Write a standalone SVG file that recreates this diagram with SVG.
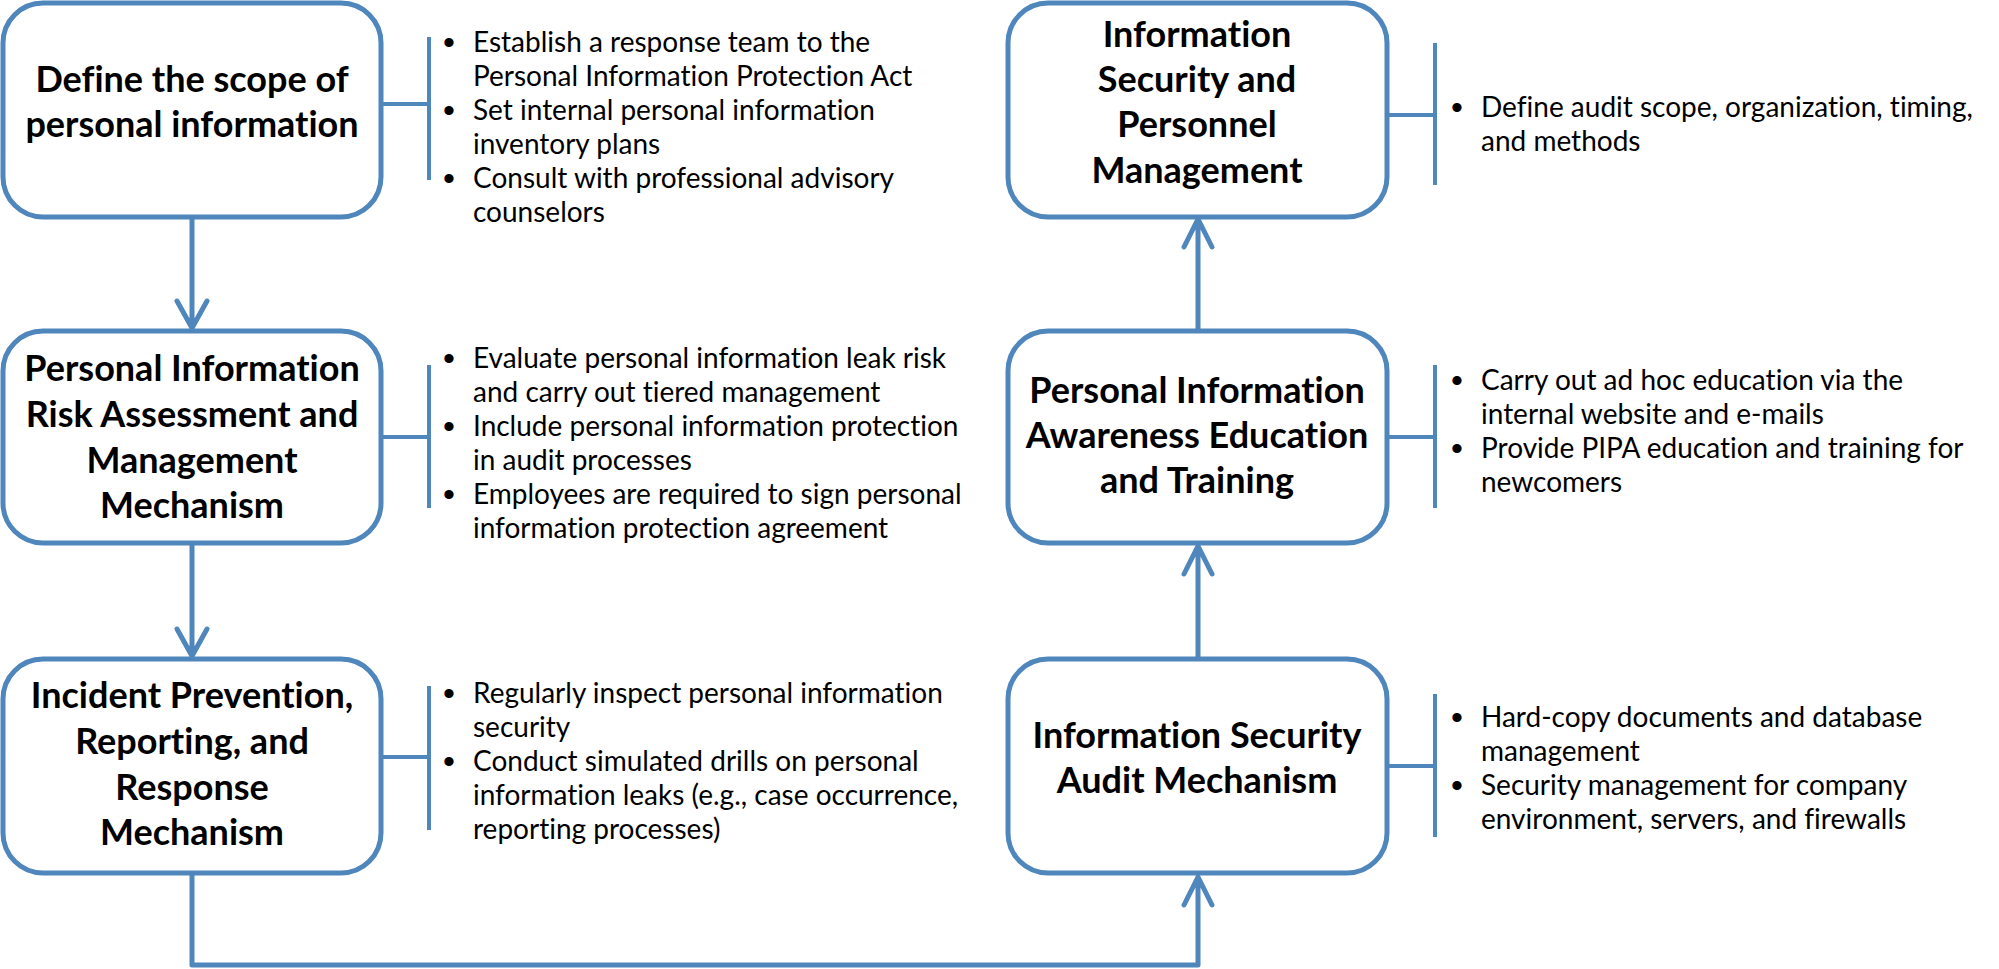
<svg xmlns="http://www.w3.org/2000/svg" width="1999" height="969" viewBox="0 0 1999 969">
<style>
.node{fill:#fff;stroke:#4F86BC;stroke-width:5}
.br{stroke:#4F86BC;stroke-width:4;fill:none}
.con{stroke:#4F86BC;stroke-width:5;fill:none;stroke-linecap:round;stroke-linejoin:round}
.t{font-family:Lato,"Liberation Sans",sans-serif;font-weight:bold;font-size:36px;fill:#000;text-anchor:middle;font-variant-ligatures:none;font-feature-settings:"liga" 0}
.b{font-family:Lato,"Liberation Sans",sans-serif;font-size:28px;fill:#000;font-variant-ligatures:none;font-feature-settings:"liga" 0}
.u{font-family:"Liberation Sans",sans-serif;font-size:34px;fill:#000;text-anchor:middle}
</style>
<rect width="1999" height="969" fill="#fff"/>
<g id="connectors">
<path class="con" d="M192 217V328M177 301L192 328L207 301"/>
<path class="con" d="M192 543V656M177 629L192 656L207 629"/>
<path class="con" d="M192 873V965H1198V877M1184 905L1198 877L1212 905"/>
<path class="con" d="M1198 659V546M1184 574L1198 546L1212 574"/>
<path class="con" d="M1198 331V219M1184 247L1198 219L1212 247"/>
</g>
<g id="n1">
<rect class="node" x="3" y="3" width="378" height="214" rx="40"/>
<text class="t" x="192" y="92">Define the scope of</text>
<text class="t" x="192" y="137">personal information</text>
<path class="br" d="M381 104H429M429 37V180"/>
<text class="u" x="449" y="54">•</text>
<text class="b" x="473" y="52">Establish a response team to the</text>
<text class="b" x="473" y="86">Personal Information Protection Act</text>
<text class="u" x="449" y="122">•</text>
<text class="b" x="473" y="120">Set internal personal information</text>
<text class="b" x="473" y="154">inventory plans</text>
<text class="u" x="449" y="190">•</text>
<text class="b" x="473" y="188">Consult with professional advisory</text>
<text class="b" x="473" y="222">counselors</text>
</g>
<g id="n2">
<rect class="node" x="3" y="331" width="378" height="212" rx="40"/>
<text class="t" x="192" y="381">Personal Information</text>
<text class="t" x="192" y="427">Risk Assessment and</text>
<text class="t" x="192" y="473">Management</text>
<text class="t" x="192" y="518">Mechanism</text>
<path class="br" d="M381 437H429M429 365V508"/>
<text class="u" x="449" y="370">•</text>
<text class="b" x="473" y="368">Evaluate personal information leak risk</text>
<text class="b" x="473" y="402">and carry out tiered management</text>
<text class="u" x="449" y="438">•</text>
<text class="b" x="473" y="436">Include personal information protection</text>
<text class="b" x="473" y="470">in audit processes</text>
<text class="u" x="449" y="506">•</text>
<text class="b" x="473" y="504">Employees are required to sign personal</text>
<text class="b" x="473" y="538">information protection agreement</text>
</g>
<g id="n3">
<rect class="node" x="3" y="659" width="378" height="214" rx="40"/>
<text class="t" x="192" y="708">Incident Prevention,</text>
<text class="t" x="192" y="754">Reporting, and</text>
<text class="t" x="192" y="800">Response</text>
<text class="t" x="192" y="845">Mechanism</text>
<path class="br" d="M381 757H429M429 686V830"/>
<text class="u" x="449" y="705">•</text>
<text class="b" x="473" y="703">Regularly inspect personal information</text>
<text class="b" x="473" y="737">security</text>
<text class="u" x="449" y="773">•</text>
<text class="b" x="473" y="771">Conduct simulated drills on personal</text>
<text class="b" x="473" y="805">information leaks (e.g., case occurrence,</text>
<text class="b" x="473" y="839">reporting processes)</text>
</g>
<g id="n4">
<rect class="node" x="1008" y="3" width="379" height="214" rx="40"/>
<text class="t" x="1197" y="47">Information</text>
<text class="t" x="1197" y="92">Security and</text>
<text class="t" x="1197" y="137">Personnel</text>
<text class="t" x="1197" y="183">Management</text>
<path class="br" d="M1387 115H1435M1435 43V185"/>
<text class="u" x="1457" y="119">•</text>
<text class="b" x="1481" y="117">Define audit scope, organization, timing,</text>
<text class="b" x="1481" y="151">and methods</text>
</g>
<g id="n5">
<rect class="node" x="1008" y="331" width="379" height="212" rx="40"/>
<text class="t" x="1197" y="403">Personal Information</text>
<text class="t" x="1197" y="448">Awareness Education</text>
<text class="t" x="1197" y="493">and Training</text>
<path class="br" d="M1387 437H1435M1435 365V508"/>
<text class="u" x="1457" y="392">•</text>
<text class="b" x="1481" y="390">Carry out ad hoc education via the</text>
<text class="b" x="1481" y="424">internal website and e-mails</text>
<text class="u" x="1457" y="460">•</text>
<text class="b" x="1481" y="458">Provide PIPA education and training for</text>
<text class="b" x="1481" y="492">newcomers</text>
</g>
<g id="n6">
<rect class="node" x="1008" y="659" width="379" height="214" rx="40"/>
<text class="t" x="1197" y="748">Information Security</text>
<text class="t" x="1197" y="793">Audit Mechanism</text>
<path class="br" d="M1387 766H1435M1435 694V837"/>
<text class="u" x="1457" y="729">•</text>
<text class="b" x="1481" y="727">Hard-copy documents and database</text>
<text class="b" x="1481" y="761">management</text>
<text class="u" x="1457" y="797">•</text>
<text class="b" x="1481" y="795">Security management for company</text>
<text class="b" x="1481" y="829">environment, servers, and firewalls</text>
</g>
</svg>
